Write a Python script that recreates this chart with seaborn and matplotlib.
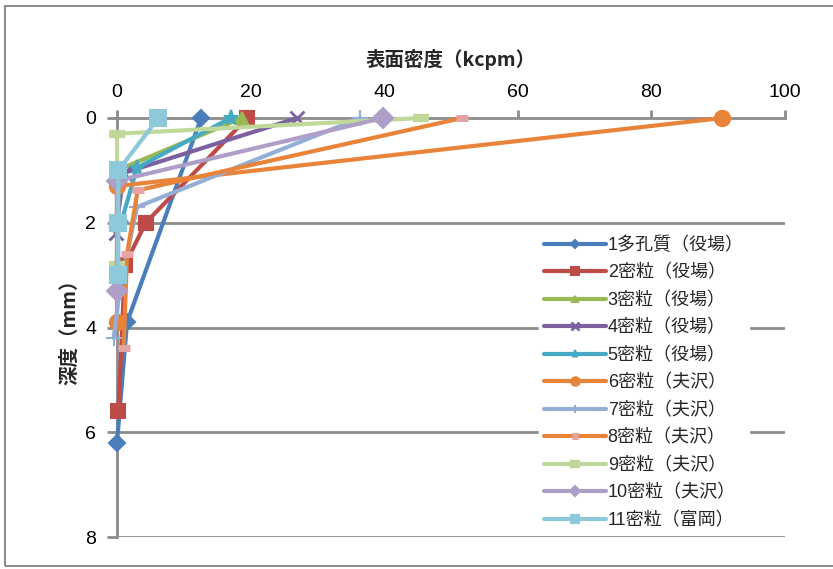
import matplotlib
matplotlib.use("Agg")
import matplotlib.pyplot as plt
import seaborn as sns
import pandas as pd
from matplotlib.patches import Rectangle

# Surface density (kcpm) versus depth (mm) for each sample
labels = ["1多孔質（役場）", "2密粒（役場）", "3密粒（役場）", "4密粒（役場）", "5密粒（役場）",
          "6密粒（夫沢）", "7密粒（夫沢）", "8密粒（夫沢）", "9密粒（夫沢）", "10密粒（夫沢）",
          "11密粒（富岡）"]

density_1 = [12.6, 1.5, 0.0]
depth_1 = [0.0, 3.9, 6.2]
density_2 = [19.5, 4.3, 1.2, 0.2]
depth_2 = [0.0, 2.0, 2.8, 5.6]
density_3 = [18.7, 0.0, 0.0]
depth_3 = [0.0, 1.0, 2.8]
density_4 = [27.0, 1.0, -0.2]
depth_4 = [0.0, 1.05, 2.2]
density_5 = [17.0, 3.0, 0.6]
depth_5 = [0.0, 0.95, 2.0]
density_6 = [90.6, 0.0, 0.0, 0.0]
depth_6 = [0.0, 1.3, 3.0, 3.9]
density_7 = [36.4, 3.0, 0.5, -0.5]
depth_7 = [0.0, 1.7, 3.2, 4.2]
density_8 = [51.7, 3.1, 1.5, 1.0]
depth_8 = [0.0, 1.38, 2.6, 4.4]
density_9 = [45.5, 0.0, 0.0]
depth_9 = [0.0, 0.3, 2.8]
density_10 = [39.8, 0.0, 0.0]
depth_10 = [0.0, 1.2, 3.3]
density_11 = [6.2, 0.2, 0.2, 0.2]
depth_11 = [0.0, 1.0, 2.0, 3.0]

densities = [density_1, density_2, density_3, density_4, density_5, density_6,
             density_7, density_8, density_9, density_10, density_11]
depths = [depth_1, depth_2, depth_3, depth_4, depth_5, depth_6,
          depth_7, depth_8, depth_9, depth_10, depth_11]

colors = ["#4A7EBB", "#BE4B48", "#98B954", "#7D60A0", "#46AAC5", "#E8833A",
          "#93AFD6", "#E8833A", "#C0D89A", "#AE9FC8", "#8DC9DB"]
markers = ["D", "s", "^", "x", "*", "o", "+", "_", "_", "D", "s"]
msizes = [8, 10, 9, 10, 11, 11, 11, 8, 12, 10, 11]
mfcs = [None] * 7 + ["#E6A3A3", None, None, None]
mecs = [None] * 7 + ["#E6A3A3", None, None, None]
mews = [1.5, 1.5, 1.5, 2.0, 1.5, 1.5, 1.5, 5, 6, 1.5, 1.5]

sns.set_theme(style="white")
plt.rcParams["font.family"] = ["Liberation Sans", "Noto Sans CJK JP", "DejaVu Sans"]

fig = plt.figure(figsize=(8.33, 5.69), dpi=100)
ax = fig.add_axes([117 / 833, 1 - 537 / 569, (785 - 117) / 833, (537 - 118) / 569])

for i, lab in enumerate(labels):
    df = pd.DataFrame({"density": densities[i], "depth": depths[i]})
    kw = dict(marker=markers[i], markersize=msizes[i], markeredgewidth=mews[i])
    if mfcs[i] is not None:
        kw.update(markerfacecolor=mfcs[i], markeredgecolor=mecs[i])
    else:
        kw.update(markeredgecolor=colors[i])
    sns.lineplot(data=df, x="density", y="depth", sort=False, estimator=None,
                 color=colors[i], linewidth=3, label=lab, ax=ax, clip_on=False,
                 zorder=3 + i * 0.01, **kw)

grid_c = "#8C8C8C"
ax.set_xlim(0, 100)
ax.set_ylim(8, 0)
ax.set_xticks([0, 20, 40, 60, 80, 100])
ax.set_yticks([0, 2, 4, 6, 8])
ax.xaxis.tick_top()
ax.xaxis.set_label_position("top")
ax.tick_params(axis="x", which="both", top=True, bottom=False, direction="out",
               length=6, width=2, color=grid_c, labelsize=14, pad=6, labelcolor="black")
ax.tick_params(axis="y", left=True, direction="out", length=7, width=2,
               color=grid_c, labelsize=14, pad=8, labelcolor="black")
for y in [2, 4, 6, 8]:
    ax.axhline(y, color=grid_c, linewidth=2, zorder=1)
for s in ["right", "bottom"]:
    ax.spines[s].set_visible(False)
for s in ["top", "left"]:
    ax.spines[s].set_color(grid_c)
    ax.spines[s].set_linewidth(2)
    ax.spines[s].set_zorder(2)

ax.set_xlabel("表面密度（kcpm）", fontsize=14, fontweight="bold",
              family=["Noto Sans CJK JP"], labelpad=13)
ax.set_ylabel("深度（mm）", fontsize=14, fontweight="bold",
              family=["Noto Sans CJK JP"], labelpad=4)

leg = ax.legend(loc="upper left", bbox_to_anchor=(530 / 833, 1 - 222 / 569),
                bbox_transform=fig.transFigure, frameon=True, fancybox=False,
                handlelength=3.4, handletextpad=0.1, labelspacing=0.57,
                borderpad=0.3, numpoints=1,
                prop={"family": ["Liberation Sans", "Noto Sans CJK JP"], "size": 13})
leg.get_frame().set_facecolor("white")
leg.get_frame().set_edgecolor("white")
leg.get_frame().set_alpha(1)
leg.set_zorder(10)
for h in leg.legend_handles:
    h.set_markersize(h.get_markersize() * 0.55)

fig.patches.append(Rectangle((5 / 833, 3 / 569), 1.0, 1 - 9 / 569,
                             transform=fig.transFigure, fill=False,
                             edgecolor="#8C8C8C", linewidth=1.5))

fig.savefig("out.png", dpi=100)
